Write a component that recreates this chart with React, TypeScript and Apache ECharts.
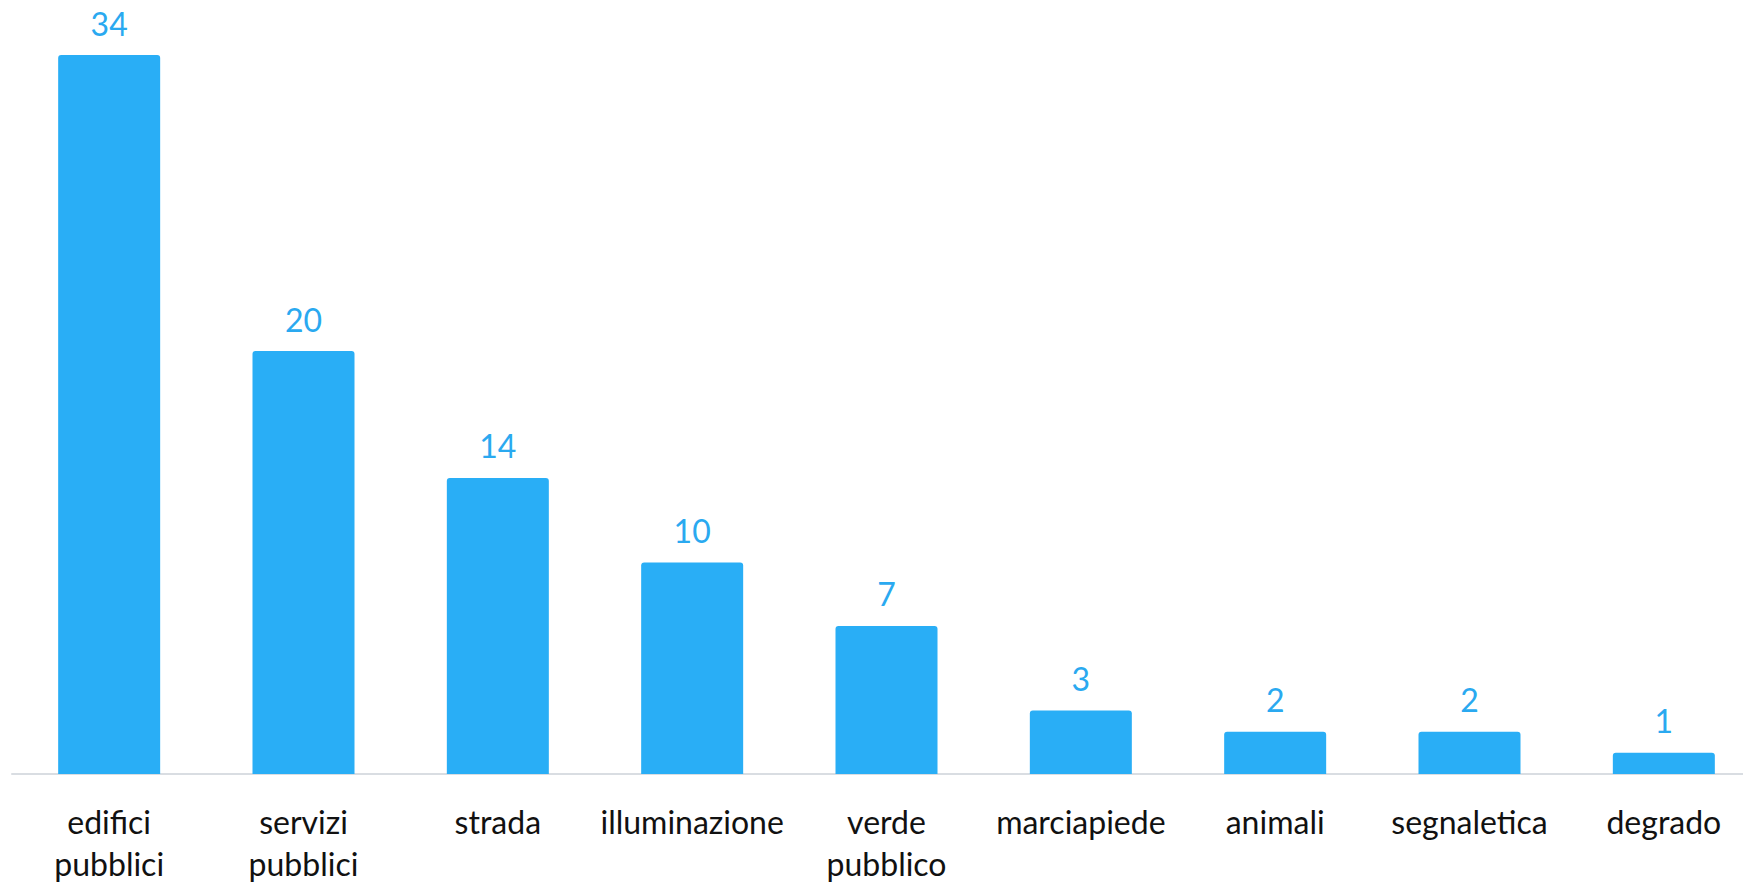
import React, { useEffect, useRef } from "react";
import * as echarts from "echarts";

const categories: string[] = [
  "edifici\npubblici",
  "servizi\npubblici",
  "strada",
  "illuminazione",
  "verde\npubblico",
  "marciapiede",
  "animali",
  "segnaletica",
  "degrado",
];
const values: number[] = [34, 20, 14, 10, 7, 3, 2, 2, 1];

const BAR_COLOR = "#29AEF6";
const LABEL_COLOR = "#2AA9F0";
const FONT = "Lato, 'Noto Sans', sans-serif";

export default function App() {
  const ref = useRef<HTMLDivElement>(null);
  useEffect(() => {
    if (!ref.current) return;
    const chart = echarts.init(ref.current, undefined, { renderer: "svg" });
    chart.setOption({
      animation: false,
      backgroundColor: "#ffffff",
      grid: { left: 12, right: 0, top: 55, bottom: 109, containLabel: false },
      xAxis: {
        type: "category",
        data: categories,
        axisTick: { show: false },
        axisLine: { lineStyle: { color: "#D9DDE2", width: 2 } },
        axisLabel: {
          interval: 0,
          fontSize: 32,
          lineHeight: 42,
          margin: 26,
          color: "#111111",
          fontFamily: FONT,
        },
      },
      yAxis: { type: "value", min: 0, max: 34, show: false, splitLine: { show: false } },
      series: [
        {
          type: "bar",
          data: values,
          barWidth: 102,
          itemStyle: { color: BAR_COLOR, borderRadius: [3, 3, 0, 0] },
          label: {
            show: true,
            position: "top",
            distance: 16,
            fontSize: 32,
            color: LABEL_COLOR,
            fontFamily: FONT,
          },
        },
      ],
    });
    return () => chart.dispose();
  }, []);
  return (
    <div
      style={{
        position: "absolute",
        left: 0,
        top: 0,
        width: 1743,
        height: 884,
        overflow: "hidden",
        background: "#ffffff",
      }}
    >
      <div ref={ref} style={{ width: 1761, height: 884 }} />
    </div>
  );
}
